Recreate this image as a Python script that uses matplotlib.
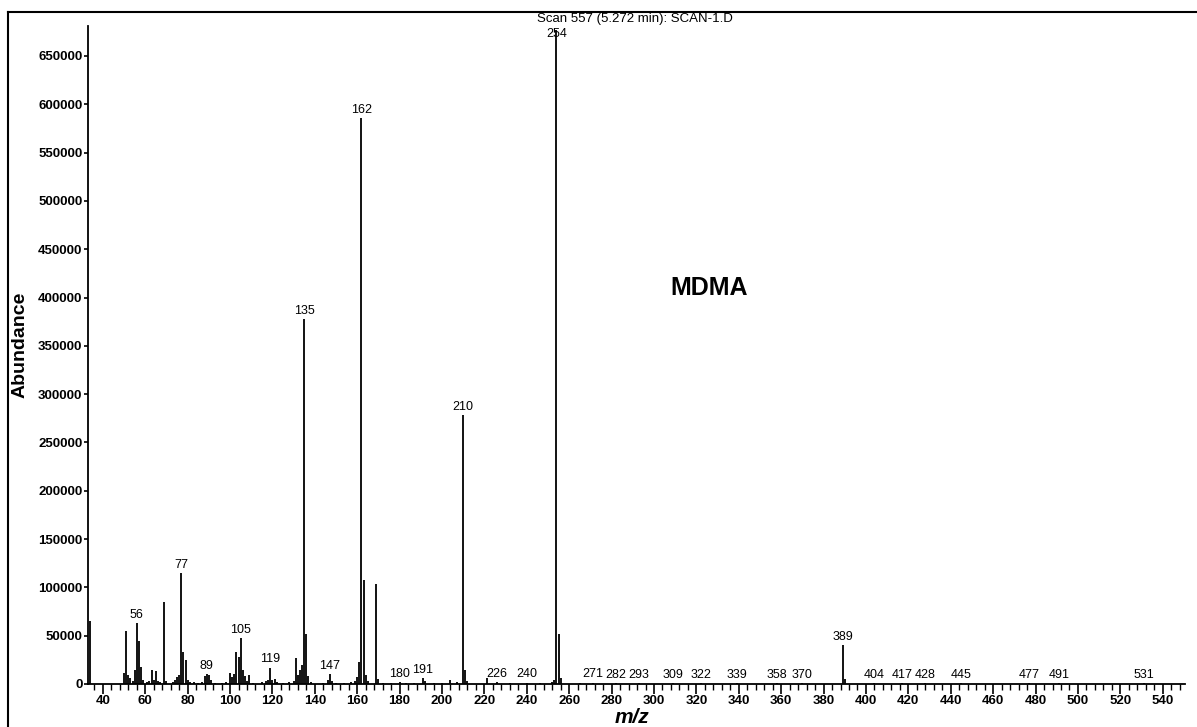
import matplotlib
matplotlib.use('Agg')
import matplotlib.pyplot as plt
from matplotlib.lines import Line2D
from matplotlib.ticker import MultipleLocator

# ── data ──
MZ = [34, 50, 51, 52, 53, 54, 55, 56, 57, 58, 59, 61, 62, 63, 64, 65, 66, 67,
      69, 70, 73, 74, 75, 76, 77, 78, 79, 80, 81, 83, 85, 87, 88, 89, 90, 91,
      93, 96, 98, 100, 101, 102, 103, 104, 105, 106, 107, 108, 109, 111, 115,
      117, 118, 119, 120, 121, 122, 125, 128, 130, 131, 132, 133, 134, 135,
      136, 137, 138, 144, 146, 147, 148, 150, 154, 157, 159, 160, 161, 162,
      163, 164, 165, 169, 170, 172, 176, 180, 183, 187, 191, 192, 196, 200,
      204, 207, 210, 211, 212, 221, 226, 232, 240, 246, 252, 253, 254, 255,
      256, 265, 271, 282, 293, 309, 322, 339, 358, 370, 389, 390, 404, 417,
      428, 445, 477, 491, 531]
ABUND = [65000, 11000, 55000, 9000, 6000, 3000, 14000, 63000, 44000, 18000,
         4000, 2000, 3000, 14000, 4000, 13000, 3000, 2000,
         85000, 3000, 2000, 4000, 7000, 9000, 115000, 33000, 25000, 4000,
         2000, 2000, 1500, 2000, 8000, 10000, 9000, 4000,
         1500, 1500, 2000, 11000, 7000, 10000, 33000, 28000, 48000, 14000,
         8000, 3000, 9000, 1500, 2000,
         3000, 4000, 17000, 4000, 5000, 2000, 1500, 2000, 3000, 27000, 9000,
         15000, 20000, 378000,
         52000, 8000, 2000, 1500, 4000, 10000, 3000, 1500, 1500, 2000, 3000,
         7000, 23000, 586000,
         108000, 9000, 3000, 103000, 5000, 1500, 1500, 2500, 1500, 1500, 6000,
         3000, 1500, 1500,
         4000, 2000, 278000, 15000, 3000, 6000, 2000, 1000, 1500, 1000, 2000,
         4000, 677000, 52000,
         6000, 800, 1500, 1200, 1200, 1000, 1000, 1000, 1000, 1000, 40000,
         5000, 1000, 900,
         900, 800, 800, 800, 700]

LABEL_MZ = [56, 77, 89, 105, 119, 135, 147, 162, 180, 191, 210, 226, 240,
            254, 271, 282, 293, 309, 322, 339, 358, 370, 389, 404, 417, 428,
            445, 477, 491, 531]

Y_TICKS = list(range(0, 650001, 50000))
X_TICKS = list(range(40, 541, 20))

TITLE = 'Scan 557 (5.272 min): SCAN-1.D'
COMPOUND = 'MDMA'

# ── style ──
plt.rcParams['font.family'] = ['Liberation Sans', 'DejaVu Sans']
W, H = 1197, 727
AX_L, AX_R, AX_B, AX_T = 88, 1185, 684, 26   # axes box in pixels

fig = plt.figure(figsize=(W / 100, H / 100), dpi=100)
ax = fig.add_axes([AX_L / W, 1 - AX_B / H, (AX_R - AX_L) / W, (AX_B - AX_T) / H])

ax.vlines(MZ, 0, ABUND, colors='black', linewidth=1.3)

# peak labels (254 runs off the top, its label sits on the line)
height = dict(zip(MZ, ABUND))
for m in LABEL_MZ:
    y = min(height[m], 664000)
    ax.annotate(str(m), (m, y), xytext=(0, 1.5), textcoords='offset points',
                ha='center', va='bottom', fontsize=9)

ax.set_xlim(33, 550.5)
ax.set_ylim(0, 681000)

for s in ('top', 'right'):
    ax.spines[s].set_visible(False)
for s in ('left', 'bottom'):
    ax.spines[s].set_linewidth(1.3)

ax.set_yticks(Y_TICKS)
ax.set_yticklabels([str(v) for v in Y_TICKS], fontsize=9.5, fontweight='bold')
ax.set_xticks(X_TICKS)
ax.set_xticklabels([str(v) for v in X_TICKS], fontsize=9.5, fontweight='bold')
ax.xaxis.set_minor_locator(MultipleLocator(4))
ax.tick_params(axis='y', length=3, width=1.2, pad=1)
ax.tick_params(axis='x', which='major', length=7, width=1.2, pad=1)
ax.tick_params(axis='x', which='minor', length=4, width=1.0)

ax.set_ylabel('Abundance', fontsize=14, fontweight='bold')
ax.yaxis.set_label_coords(-(AX_L - 29) / (AX_R - AX_L),
                          (AX_B - 345) / (AX_B - AX_T))

fig.text(632 / W, 1 - 708 / H, 'm/z', fontsize=15, fontweight='bold',
         fontstyle='italic', ha='center', va='top')
fig.text(635 / W, 1 - 19 / H, TITLE, fontsize=9.5, ha='center', va='center')
ax.text(326, 410000, COMPOUND, fontsize=18, fontweight='bold',
        ha='center', va='center')

# outer frame of the scanned page
fx, fy = 8 / W, 1 - 12 / H
fig.add_artist(Line2D([fx, fx], [0, fy], color='black', linewidth=1.5))
fig.add_artist(Line2D([fx, 1], [fy, fy], color='black', linewidth=1.5))

fig.savefig('out.png', dpi=100)
